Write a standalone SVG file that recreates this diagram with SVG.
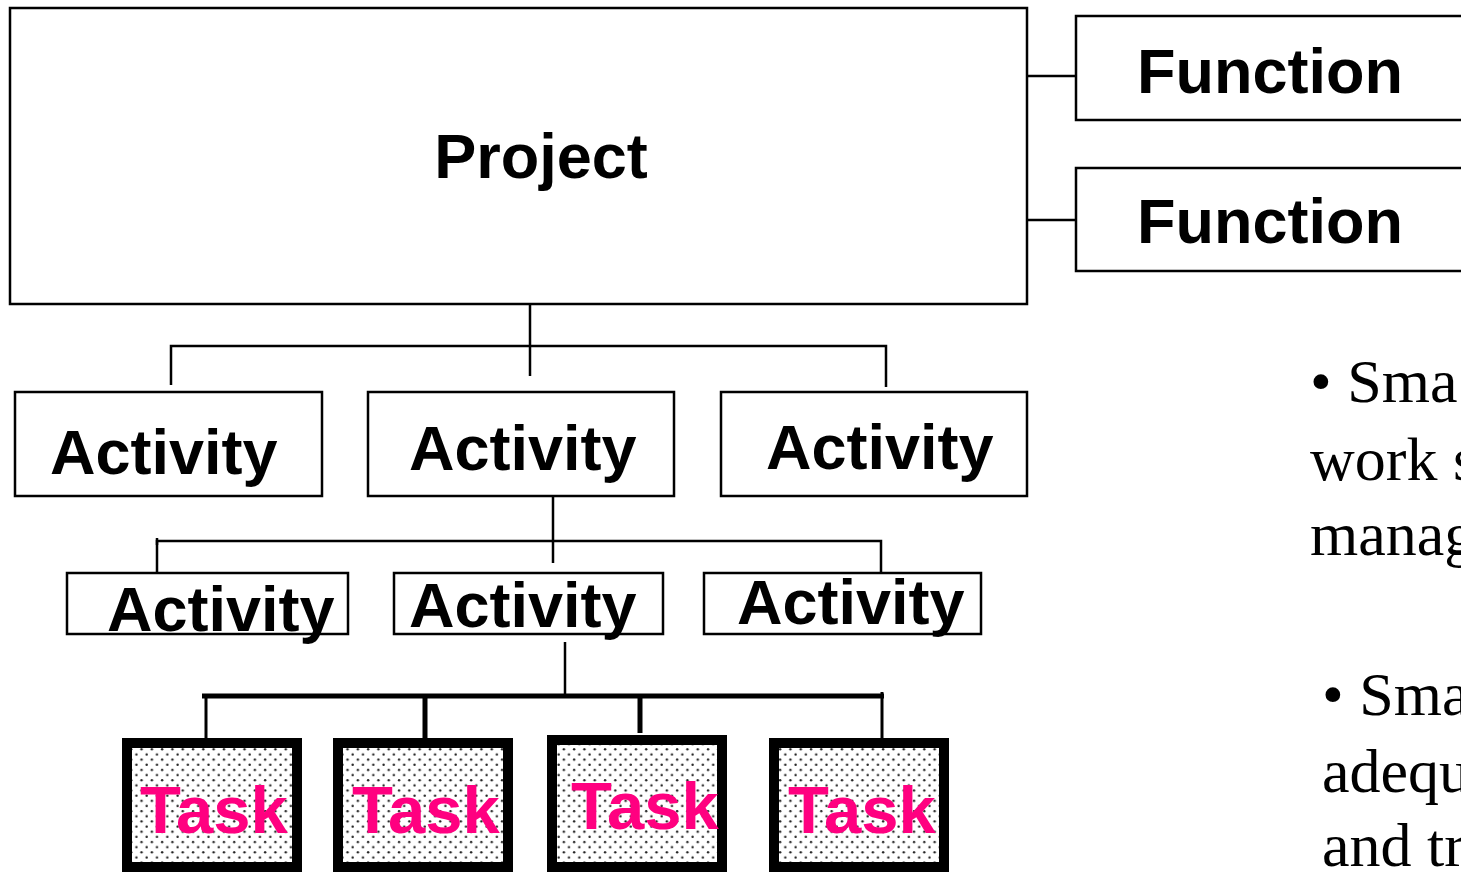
<svg xmlns="http://www.w3.org/2000/svg" width="1461" height="872" viewBox="0 0 1461 872">
<style>
.box{fill:#fff;stroke:#000;stroke-width:2.5}
.task{fill:url(#dots);stroke:#000;stroke-width:10}
.lbl{font-family:"Liberation Sans",Arial,sans-serif;font-weight:bold;font-size:63px;fill:#000}
.tlbl{font-family:"Liberation Sans",Arial,sans-serif;font-weight:bold;font-size:67px;fill:#FF0080}
.body{font-family:"Liberation Serif","Times New Roman",serif;font-size:62px;fill:#000}
.ln{stroke:#000;stroke-width:2.5;fill:none}
.thick{stroke:#000;stroke-width:5;fill:none}
.mid{stroke:#000;stroke-width:3;fill:none}
</style>
<defs>
<pattern id="dots" width="10.3" height="10.3" patternUnits="userSpaceOnUse">
<rect width="10.3" height="10.3" fill="#fff"/>
<circle cx="2.5" cy="2.5" r="1.2" fill="#222"/>
<circle cx="7.65" cy="7.65" r="1.2" fill="#222"/>
</pattern>
</defs>
<rect width="1461" height="872" fill="#fff"/>
<g id="connectors">
<line class="ln" x1="1027" y1="76" x2="1080" y2="76"/>
<line class="ln" x1="1027" y1="220" x2="1080" y2="220"/>
<line class="ln" x1="530" y1="304" x2="530" y2="376"/>
<polyline class="ln" points="171,385 171,346 886,346 886,387"/>
<line class="ln" x1="553" y1="492" x2="553" y2="563"/>
<polyline class="ln" points="157,573 157,541 881,541 881,573"/>
<line class="ln" x1="157" y1="538" x2="157" y2="545"/>
<line class="ln" x1="565" y1="642" x2="565" y2="696"/>
<line class="thick" x1="202" y1="696" x2="884" y2="696"/>
<line class="mid" x1="206" y1="696" x2="206" y2="740"/>
<line class="thick" x1="425" y1="696" x2="425" y2="740"/>
<line class="thick" x1="640" y1="696" x2="640" y2="733"/>
<line class="mid" x1="882" y1="692" x2="882" y2="738"/>
</g>
<g id="project">
<rect class="box" x="10" y="8" width="1017" height="296"/>
<text class="lbl" x="541" y="178" text-anchor="middle">Project</text>
</g>
<g id="function1">
<rect class="box" x="1076" y="16" width="400" height="104"/>
<text class="lbl" x="1137" y="93">Function</text>
</g>
<g id="function2">
<rect class="box" x="1076" y="168" width="400" height="103"/>
<text class="lbl" x="1137" y="243">Function</text>
</g>
<g id="activity1">
<rect class="box" x="15" y="392" width="307" height="104"/>
<text class="lbl" x="50" y="474">Activity</text>
</g>
<g id="activity2">
<rect class="box" x="368" y="392" width="306" height="104"/>
<text class="lbl" x="409" y="470">Activity</text>
</g>
<g id="activity3">
<rect class="box" x="721" y="392" width="306" height="104"/>
<text class="lbl" x="766" y="469">Activity</text>
</g>
<g id="activity4">
<rect class="box" x="67" y="573" width="281" height="61"/>
<text class="lbl" x="107" y="631">Activity</text>
</g>
<g id="activity5">
<rect class="box" x="394" y="573" width="269" height="61"/>
<text class="lbl" x="409" y="627">Activity</text>
</g>
<g id="activity6">
<rect class="box" x="704" y="573" width="277" height="61"/>
<text class="lbl" x="737" y="624">Activity</text>
</g>
<g id="task1">
<rect class="task" x="127" y="743" width="170" height="124"/>
<text class="tlbl" x="140" y="833">Task</text>
</g>
<g id="task2">
<rect class="task" x="338" y="743" width="170" height="124"/>
<text class="tlbl" x="352" y="833">Task</text>
</g>
<g id="task3">
<rect class="task" x="552" y="740" width="170" height="127"/>
<text class="tlbl" x="571" y="829">Task</text>
</g>
<g id="task4">
<rect class="task" x="774" y="743" width="170" height="124"/>
<text class="tlbl" x="788" y="833">Task</text>
</g>
<g id="notes">
<text class="body" x="1310" y="402">• Sma</text>
<text class="body" x="1310" y="480">work s</text>
<text class="body" x="1310" y="555">manag</text>
<text class="body" x="1322" y="715">• Sma</text>
<text class="body" x="1322" y="792">adequ</text>
<text class="body" x="1322" y="866">and tr</text>
</g>
</svg>
